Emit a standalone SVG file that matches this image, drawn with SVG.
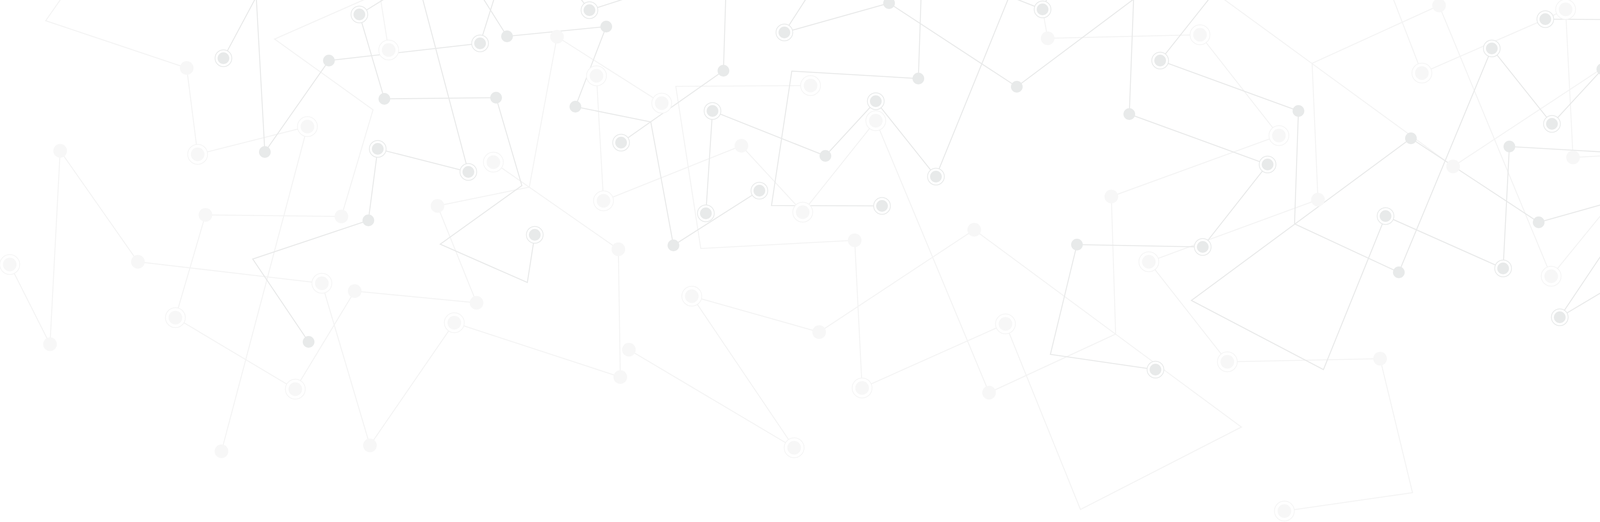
<svg xmlns="http://www.w3.org/2000/svg" xmlns:xlink="http://www.w3.org/1999/xlink" width="6216" height="1336" viewBox="0 0 6216 1336">
<style>
.l{fill:none;stroke:#f4f4f4;stroke-width:2.6;stroke-linejoin:miter}
.d{fill:none;stroke:#e9eaea;stroke-width:2.6;stroke-linejoin:miter}
</style>
<defs>
<g id="nd"><circle r="15" fill="#e8eaea"/></g>
<g id="ndr"><circle r="21.5" fill="#fff" stroke="#e8eaea" stroke-width="2"/><circle r="15" fill="#e8eaea"/></g>
<g id="nl"><circle r="17.5" fill="#f7f7f7"/></g>
<g id="nlr"><circle r="25.5" fill="#fff" stroke="#f5f5f5" stroke-width="2"/><circle r="17.5" fill="#f7f7f7"/></g>
</defs>
<rect width="6216" height="1336" fill="#ffffff"/>
<g id="connectors">
<g id="light-lines">
<polyline class="l" points="161,-10 117,53 478,174 506,395 787,324 567,1155"/>
<polyline class="l" points="953,-10 703,100 955,281 874,554 526,550 449,813 756,996 908,745 1220,775 1120,527 1355,479 1426,94 1694,264"/>
<polyline class="l" points="973,-10 995,128"/>
<polyline class="l" points="25,677 128,881 154,386 353,670 824,725 947,1140 1163,826 1588,965 1583,638 1263,415"/>
<polyline class="l" points="1527,194 1545,514 1898,373 2055,543 2242,309 2532,1005 2856,855 2845,503 3274,347 3072,89 2682,98 2669,24"/>
<polyline class="l" points="3122,-10 3720,426 4118,164 4443,258 4266,-10"/>
<polyline class="l" points="4161,474 3971,707 3684,14 3359,162 3374,511 2941,670 3142,926 3533,918 3616,1261 3288,1308"/>
<polyline class="l" points="3564,-10 3640,187 3956,49 4008,24 4027,403 4422,381 4485,797 4139,797"/>
<polyline class="l" points="4206,494 4316,643 4668,502 4688,822"/>
<polyline class="l" points="4523,752 4790,923 4859,538 5096,492 4996,242 5307,271 5459,21 5766,204 5689,466 5341,463 5261,734 5514,918 5243,1037 5221,889"/>
<polyline class="l" points="4408,30 4607,122"/>
<polyline class="l" points="4950,602 4632,379 4627,51 5052,189 5196,-10"/>
<polyline class="l" points="5306,-10 5390,291 5862,348 6062,631 6089,136 6191,339"/>
<polyline class="l" points="5612,-10 5427,693 5709,621 5739,843 6101,964 5925,1222"/>
<polyline class="l" points="2075,219 1730,221 1794,636 2188,615 2207,993 2574,829 2766,1304 3178,1093 2494,588 2097,850 1771,758 2033,1146 1610,895"/>
</g>
<g id="dark-lines">
<polyline class="d" points="1267,-10 1229,111 842,155 678,389 656,-8 572,149"/>
<polyline class="d" points="996,-10 920,37 984,253 1270,250 1336,475 1127,625 1350,723 1369,601"/>
<polyline class="d" points="1080,-10 1199,440 967,381 943,564 647,663 790,875"/>
<polyline class="d" points="1233,-10 1298,93 1552,68 1473,273 1666,312 1724,628 1944,488"/>
<polyline class="d" points="1481,-10 1509,26 1621,-10"/>
<polyline class="d" points="1858,-10 1852,181 1590,365"/>
<polyline class="d" points="2068,-10 2008,83 2276,8 2603,222 2902,-2 2891,292 3245,421 3079,632 2757,626 2689,907 2958,946"/>
<polyline class="d" points="2358,-10 2351,201 2027,182 1975,526 2258,527"/>
<polyline class="d" points="1807,546 1824,284 2113,399 2242,259 2396,452 2584,-10"/>
<polyline class="d" points="2582,-10 2669,24 2683,-10"/>
<polyline class="d" points="3101,-10 2970,155 3324,284 3314,573 3581,697 3819,124 3973,317 4102,177 4392,292 4408,30"/>
<polyline class="d" points="4271,87 4429,-10"/>
<polyline class="d" points="3956,49 4241,51 4190,394 3864,375 3848,687 3547,553 3388,946 3050,769 3612,354 3939,569 4206,494 3993,812 4339,606"/>
<polyline class="d" points="4503,-10 4550,266 4742,302 4662,508 4917,483 5043,689 5295,538 5231,323 4946,325 4880,101 5037,-10"/>
<polyline class="d" points="4625,211 4550,266 4363,394 4359,664 4707,550 4886,808 4987,465 5373,421 5537,187 5559,595 5644,426"/>
<polyline class="d" points="5334,-10 5272,13 5248,195 5017,135 5198,820"/>
</g>
</g>
<g id="nodes">
<g id="n17"><use xlink:href="#nl" x="478" y="174"/></g>
<g id="n20"><use xlink:href="#nl" x="567" y="1155"/></g>
<g id="n21"><use xlink:href="#nl" x="874" y="554"/></g>
<g id="n22"><use xlink:href="#nl" x="526" y="550"/></g>
<g id="n25"><use xlink:href="#nl" x="908" y="745"/></g>
<g id="n26"><use xlink:href="#nl" x="1220" y="775"/></g>
<g id="n27"><use xlink:href="#nl" x="1120" y="527"/></g>
<g id="n28"><use xlink:href="#nl" x="1426" y="94"/></g>
<g id="n30"><use xlink:href="#nl" x="154" y="386"/></g>
<g id="n31"><use xlink:href="#nl" x="128" y="881"/></g>
<g id="n33"><use xlink:href="#nl" x="353" y="670"/></g>
<g id="n35"><use xlink:href="#nl" x="947" y="1140"/></g>
<g id="n60"><use xlink:href="#nl" x="2682" y="98"/></g>
<g id="n66"><use xlink:href="#nl" x="1898" y="373"/></g>
<g id="n67"><use xlink:href="#nl" x="2494" y="588"/></g>
<g id="n68"><use xlink:href="#nl" x="2845" y="503"/></g>
<g id="n69"><use xlink:href="#nl" x="2532" y="1005"/></g>
<g id="n72"><use xlink:href="#nl" x="2188" y="615"/></g>
<g id="n74"><use xlink:href="#nl" x="2097" y="850"/></g>
<g id="n76"><use xlink:href="#nl" x="1610" y="895"/></g>
<g id="n77"><use xlink:href="#nl" x="1583" y="638"/></g>
<g id="n78"><use xlink:href="#nl" x="1588" y="965"/></g>
<g id="n101"><use xlink:href="#nl" x="3684" y="14"/></g>
<g id="n102"><use xlink:href="#nl" x="3374" y="511"/></g>
<g id="n106"><use xlink:href="#nl" x="4027" y="403"/></g>
<g id="n108"><use xlink:href="#nl" x="4118" y="164"/></g>
<g id="n109"><use xlink:href="#nl" x="3720" y="426"/></g>
<g id="n112"><use xlink:href="#nl" x="4316" y="643"/></g>
<g id="n114"><use xlink:href="#nl" x="4627" y="51"/></g>
<g id="n115"><use xlink:href="#nl" x="4632" y="379"/></g>
<g id="n116"><use xlink:href="#nl" x="4607" y="122"/></g>
<g id="n119"><use xlink:href="#nl" x="3533" y="918"/></g>
<g id="n141"><use xlink:href="#nl" x="5307" y="271"/></g>
<g id="n142"><use xlink:href="#nl" x="4996" y="242"/></g>
<g id="n143"><use xlink:href="#nl" x="5096" y="492"/></g>
<g id="n144"><use xlink:href="#nl" x="4790" y="923"/></g>
<g id="n146"><use xlink:href="#nl" x="5689" y="466"/></g>
<g id="n147"><use xlink:href="#nl" x="5341" y="463"/></g>
<g id="n150"><use xlink:href="#nl" x="5862" y="348"/></g>
<g id="n151"><use xlink:href="#nl" x="6062" y="631"/></g>
<g id="n152"><use xlink:href="#nl" x="6089" y="136"/></g>
<g id="n156"><use xlink:href="#nl" x="5739" y="843"/></g>
<g id="n157"><use xlink:href="#nl" x="5925" y="1222"/></g>
<g id="n18"><use xlink:href="#nlr" x="506" y="395"/></g>
<g id="n19"><use xlink:href="#nlr" x="787" y="324"/></g>
<g id="n23"><use xlink:href="#nlr" x="449" y="813"/></g>
<g id="n24"><use xlink:href="#nlr" x="756" y="996"/></g>
<g id="n29"><use xlink:href="#nlr" x="995" y="128"/></g>
<g id="n32"><use xlink:href="#nlr" x="25" y="677"/></g>
<g id="n34"><use xlink:href="#nlr" x="824" y="725"/></g>
<g id="n36"><use xlink:href="#nlr" x="1163" y="826"/></g>
<g id="n37"><use xlink:href="#nlr" x="1263" y="415"/></g>
<g id="n38"><use xlink:href="#nlr" x="1527" y="194"/></g>
<g id="n39"><use xlink:href="#nlr" x="1545" y="514"/></g>
<g id="n61"><use xlink:href="#nlr" x="3072" y="89"/></g>
<g id="n62"><use xlink:href="#nlr" x="1694" y="264"/></g>
<g id="n63"><use xlink:href="#nlr" x="2075" y="219"/></g>
<g id="n64"><use xlink:href="#nlr" x="2242" y="309"/></g>
<g id="n65"><use xlink:href="#nlr" x="2055" y="543"/></g>
<g id="n70"><use xlink:href="#nlr" x="2574" y="829"/></g>
<g id="n71"><use xlink:href="#nlr" x="2207" y="993"/></g>
<g id="n73"><use xlink:href="#nlr" x="1771" y="758"/></g>
<g id="n75"><use xlink:href="#nlr" x="2033" y="1146"/></g>
<g id="n79"><use xlink:href="#nlr" x="2941" y="670"/></g>
<g id="n103"><use xlink:href="#nlr" x="3971" y="707"/></g>
<g id="n104"><use xlink:href="#nlr" x="3640" y="187"/></g>
<g id="n105"><use xlink:href="#nlr" x="4008" y="24"/></g>
<g id="n107"><use xlink:href="#nlr" x="4139" y="797"/></g>
<g id="n110"><use xlink:href="#nlr" x="4443" y="258"/></g>
<g id="n111"><use xlink:href="#nlr" x="4161" y="474"/></g>
<g id="n113"><use xlink:href="#nlr" x="4523" y="752"/></g>
<g id="n117"><use xlink:href="#nlr" x="3274" y="347"/></g>
<g id="n118"><use xlink:href="#nlr" x="3142" y="926"/></g>
<g id="n120"><use xlink:href="#nlr" x="3288" y="1308"/></g>
<g id="n121"><use xlink:href="#nlr" x="4668" y="502"/></g>
<g id="n140"><use xlink:href="#nlr" x="5459" y="21"/></g>
<g id="n145"><use xlink:href="#nlr" x="5766" y="204"/></g>
<g id="n148"><use xlink:href="#nlr" x="5221" y="889"/></g>
<g id="n149"><use xlink:href="#nlr" x="5390" y="291"/></g>
<g id="n153"><use xlink:href="#nlr" x="6191" y="339"/></g>
<g id="n154"><use xlink:href="#nlr" x="5427" y="693"/></g>
<g id="n155"><use xlink:href="#nlr" x="5709" y="621"/></g>
<g id="n158"><use xlink:href="#nlr" x="5052" y="189"/></g>
<g id="n159"><use xlink:href="#nlr" x="4950" y="602"/></g>
<g id="n160"><use xlink:href="#nlr" x="4688" y="822"/></g>
<g id="n2"><use xlink:href="#nd" x="678" y="389"/></g>
<g id="n3"><use xlink:href="#nd" x="842" y="155"/></g>
<g id="n6"><use xlink:href="#nd" x="984" y="253"/></g>
<g id="n7"><use xlink:href="#nd" x="1270" y="250"/></g>
<g id="n11"><use xlink:href="#nd" x="943" y="564"/></g>
<g id="n12"><use xlink:href="#nd" x="790" y="875"/></g>
<g id="n13"><use xlink:href="#nd" x="1298" y="93"/></g>
<g id="n14"><use xlink:href="#nd" x="1552" y="68"/></g>
<g id="n15"><use xlink:href="#nd" x="1473" y="273"/></g>
<g id="n40"><use xlink:href="#nd" x="1852" y="181"/></g>
<g id="n42"><use xlink:href="#nd" x="1724" y="628"/></g>
<g id="n45"><use xlink:href="#nd" x="2276" y="8"/></g>
<g id="n46"><use xlink:href="#nd" x="2603" y="222"/></g>
<g id="n47"><use xlink:href="#nd" x="2351" y="201"/></g>
<g id="n51"><use xlink:href="#nd" x="2113" y="399"/></g>
<g id="n56"><use xlink:href="#nd" x="2891" y="292"/></g>
<g id="n57"><use xlink:href="#nd" x="2757" y="626"/></g>
<g id="n80"><use xlink:href="#nd" x="3324" y="284"/></g>
<g id="n82"><use xlink:href="#nd" x="3581" y="697"/></g>
<g id="n85"><use xlink:href="#nd" x="4102" y="177"/></g>
<g id="n89"><use xlink:href="#nd" x="3612" y="354"/></g>
<g id="n90"><use xlink:href="#nd" x="3939" y="569"/></g>
<g id="n93"><use xlink:href="#nd" x="4339" y="606"/></g>
<g id="n94"><use xlink:href="#nd" x="4363" y="394"/></g>
<g id="n95"><use xlink:href="#nd" x="4359" y="664"/></g>
<g id="n97"><use xlink:href="#nd" x="3864" y="375"/></g>
<g id="n122"><use xlink:href="#nd" x="4742" y="302"/></g>
<g id="n123"><use xlink:href="#nd" x="4946" y="325"/></g>
<g id="n124"><use xlink:href="#nd" x="5231" y="323"/></g>
<g id="n126"><use xlink:href="#nd" x="4662" y="508"/></g>
<g id="n127"><use xlink:href="#nd" x="4917" y="483"/></g>
<g id="n129"><use xlink:href="#nd" x="5272" y="13"/></g>
<g id="n132"><use xlink:href="#nd" x="5198" y="820"/></g>
<g id="n133"><use xlink:href="#nd" x="5373" y="421"/></g>
<g id="n135"><use xlink:href="#nd" x="4886" y="808"/></g>
<g id="n137"><use xlink:href="#nd" x="5537" y="187"/></g>
<g id="n138"><use xlink:href="#nd" x="5559" y="595"/></g>
<g id="n1"><use xlink:href="#ndr" x="572" y="149"/></g>
<g id="n4"><use xlink:href="#ndr" x="1229" y="111"/></g>
<g id="n5"><use xlink:href="#ndr" x="920" y="37"/></g>
<g id="n8"><use xlink:href="#ndr" x="1369" y="601"/></g>
<g id="n9"><use xlink:href="#ndr" x="1199" y="440"/></g>
<g id="n10"><use xlink:href="#ndr" x="967" y="381"/></g>
<g id="n16"><use xlink:href="#ndr" x="1509" y="26"/></g>
<g id="n41"><use xlink:href="#ndr" x="1590" y="365"/></g>
<g id="n43"><use xlink:href="#ndr" x="1944" y="488"/></g>
<g id="n44"><use xlink:href="#ndr" x="2008" y="83"/></g>
<g id="n48"><use xlink:href="#ndr" x="2258" y="527"/></g>
<g id="n49"><use xlink:href="#ndr" x="1824" y="284"/></g>
<g id="n50"><use xlink:href="#ndr" x="1807" y="546"/></g>
<g id="n52"><use xlink:href="#ndr" x="2242" y="259"/></g>
<g id="n53"><use xlink:href="#ndr" x="2396" y="452"/></g>
<g id="n54"><use xlink:href="#ndr" x="2669" y="24"/></g>
<g id="n55"><use xlink:href="#ndr" x="2970" y="155"/></g>
<g id="n58"><use xlink:href="#ndr" x="3079" y="632"/></g>
<g id="n59"><use xlink:href="#ndr" x="2958" y="946"/></g>
<g id="n81"><use xlink:href="#ndr" x="3245" y="421"/></g>
<g id="n83"><use xlink:href="#ndr" x="3819" y="124"/></g>
<g id="n84"><use xlink:href="#ndr" x="3973" y="317"/></g>
<g id="n86"><use xlink:href="#ndr" x="4392" y="292"/></g>
<g id="n87"><use xlink:href="#ndr" x="4408" y="30"/></g>
<g id="n88"><use xlink:href="#ndr" x="4271" y="87"/></g>
<g id="n91"><use xlink:href="#ndr" x="4206" y="494"/></g>
<g id="n92"><use xlink:href="#ndr" x="3993" y="812"/></g>
<g id="n96"><use xlink:href="#ndr" x="4625" y="211"/></g>
<g id="n98"><use xlink:href="#ndr" x="3848" y="687"/></g>
<g id="n99"><use xlink:href="#ndr" x="3547" y="553"/></g>
<g id="n100"><use xlink:href="#ndr" x="3956" y="49"/></g>
<g id="n125"><use xlink:href="#ndr" x="5295" y="538"/></g>
<g id="n128"><use xlink:href="#ndr" x="5043" y="689"/></g>
<g id="n130"><use xlink:href="#ndr" x="5248" y="195"/></g>
<g id="n131"><use xlink:href="#ndr" x="5017" y="135"/></g>
<g id="n134"><use xlink:href="#ndr" x="4987" y="465"/></g>
<g id="n136"><use xlink:href="#ndr" x="4707" y="550"/></g>
<g id="n139"><use xlink:href="#ndr" x="5644" y="426"/></g>
</g>
</svg>
